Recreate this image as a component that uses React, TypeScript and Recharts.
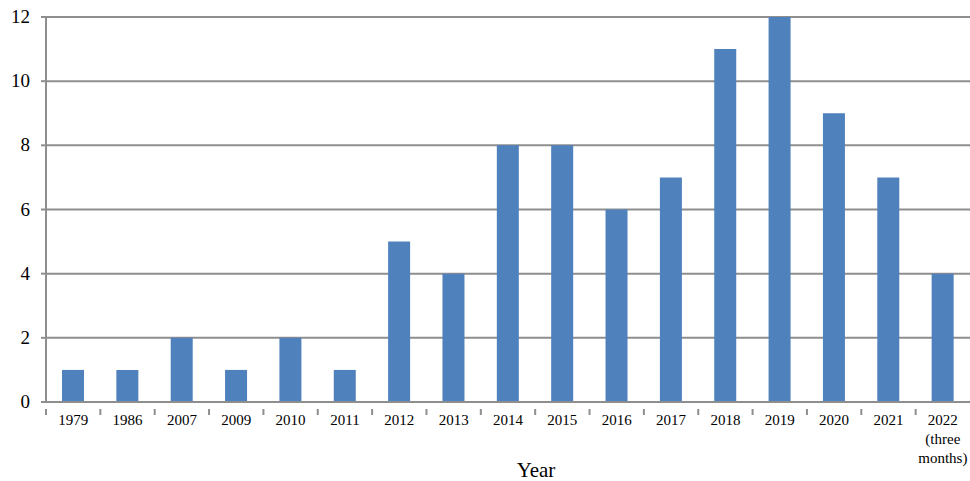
import { BarChart, Bar, XAxis, YAxis, CartesianGrid } from 'recharts'

const years = ['1979', '1986', '2007', '2009', '2010', '2011', '2012', '2013', '2014', '2015', '2016', '2017', '2018', '2019', '2020', '2021', '2022\n(three\nmonths)']
const counts = [1, 1, 2, 1, 2, 1, 5, 4, 8, 8, 6, 7, 11, 12, 9, 7, 4]
const yTicks = [0, 2, 4, 6, 8, 10, 12]

const data = years.map((year, i) => ({ year, count: counts[i] }))

const FONT = '"Liberation Serif", "Times New Roman", serif'
const GRID = '#8e8e8e'

function YearTick(props: any) {
  const { x, y, payload } = props
  const band = 924 / years.length
  const lines = String(payload.value).split('\n')
  const left = x - band / 2
  return (
    <g>
      <line x1={left} y1={y - 1} x2={left} y2={y + 5} stroke={GRID} strokeWidth={2} />
      <text x={x} y={y + 15} textAnchor="middle" style={{ fontFamily: FONT, fontSize: 15 }} fill="#000">
        {lines.map((l, i) => (
          <tspan key={i} x={x} dy={i === 0 ? 0 : 19}>
            {l}
          </tspan>
        ))}
      </text>
    </g>
  )
}

function CountTick(props: any) {
  const { x, y, payload } = props
  return (
    <text x={x} y={y + 6} textAnchor="end" style={{ fontFamily: FONT, fontSize: 19 }} fill="#000">
      {payload.value}
    </text>
  )
}

export default function App() {
  return (
    <div style={{ position: 'absolute', left: 0, top: 0, width: 970, height: 481, background: '#fff' }}>
      <BarChart width={970} height={481} data={data} margin={{ top: 17, right: 0, bottom: 0, left: 0 }}>
        <CartesianGrid vertical={false} stroke={GRID} strokeWidth={2} />
        <XAxis
          dataKey="year"
          height={79}
          interval={0}
          tickLine={false}
          axisLine={{ stroke: GRID, strokeWidth: 2 }}
          tick={<YearTick />}
          label={{ value: 'Year', position: 'insideBottom', offset: 4, dx: 28, style: { fontFamily: FONT, fontSize: 21 }, fill: '#000' }}
        />
        <YAxis
          width={46}
          domain={[0, 12]}
          ticks={yTicks}
          interval={0}
          tickSize={5}
          tickMargin={11}
          tickLine={{ stroke: GRID, strokeWidth: 2 }}
          axisLine={{ stroke: GRID, strokeWidth: 2 }}
          tick={<CountTick />}
        />
        <Bar dataKey="count" fill="#4F81BD" barSize={22} isAnimationActive={false} />
      </BarChart>
    </div>
  )
}
